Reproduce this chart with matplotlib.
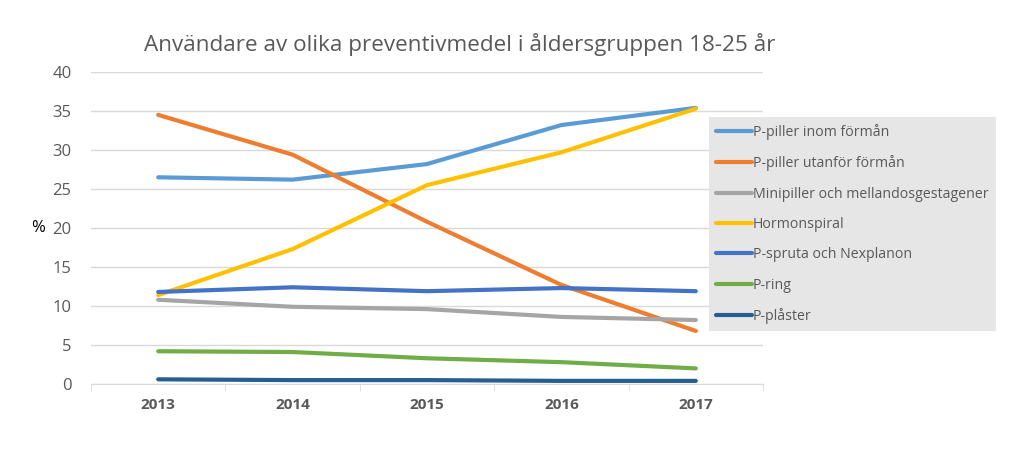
import numpy as np
import matplotlib.pyplot as plt

plt.rcParams['font.family'] = ['Open Sans', 'DejaVu Sans']

years = ['2013', '2014', '2015', '2016', '2017']
series_names = ['P-piller inom förmån', 'P-piller utanför förmån',
                'Minipiller och mellandosgestagener', 'Hormonspiral',
                'P-spruta och Nexplanon', 'P-ring', 'P-plåster']
p_inom = [26.5, 26.2, 28.2, 33.2, 35.4]
p_utanfor = [34.5, 29.4, 20.8, 12.7, 6.8]
minipiller = [10.8, 9.9, 9.6, 8.6, 8.2]
hormonspiral = [11.4, 17.3, 25.5, 29.7, 35.3]
p_spruta = [11.8, 12.4, 11.9, 12.3, 11.9]
p_ring = [4.2, 4.1, 3.3, 2.8, 2.0]
p_plaster = [0.6, 0.5, 0.5, 0.4, 0.4]
colors = ['#5B9BD5', '#ED7D31', '#A5A5A5', '#FFC000', '#4472C4', '#70AD47', '#255E91']

values = [p_inom, p_utanfor, minipiller, hormonspiral, p_spruta, p_ring, p_plaster]

fig = plt.figure(figsize=(10.24, 4.63), dpi=100)
ax = fig.add_axes([91 / 1024, 79 / 463, 672 / 1024, 312 / 463])

x = np.arange(len(years))
lines = []
for name, vals, col in zip(series_names, values, colors):
    ln, = ax.plot(x, vals, color=col, lw=3, solid_capstyle='round', label=name, zorder=3)
    lines.append(ln)

ax.set_xlim(-0.5, len(years) - 0.5)
ax.set_ylim(0, 40)
ax.set_yticks(range(0, 41, 5))
ax.yaxis.grid(True, color='#D9D9D9', lw=1)
ax.set_axisbelow(True)
for s in ['top', 'right', 'left']:
    ax.spines[s].set_visible(False)
ax.spines['bottom'].set_color('#D9D9D9')
ax.tick_params(axis='y', length=0, labelsize=12, labelcolor='#595959', pad=14)
ax.set_xticks(x)
ax.set_xticklabels(years, fontweight='bold')
ax.tick_params(axis='x', length=0, labelsize=11, labelcolor='#595959', pad=10)
ax.set_xticks(np.arange(-0.5, len(years)), minor=True)
ax.tick_params(axis='x', which='minor', length=5, color='#D9D9D9')

fig.text(38 / 1024, 1 - 228 / 463, '%', fontsize=12, ha='center', va='center', color='black')
fig.text(460 / 1024, 1 - 45 / 463, 'Användare av olika preventivmedel i åldersgruppen 18-25 år',
         fontsize=16.2, ha='center', va='center', color='#595959')

leg = fig.legend(handles=lines, loc='upper left', bbox_to_anchor=(709 / 1024, 1 - 117 / 463),
                 frameon=True, fancybox=False, facecolor='#E7E6E6', edgecolor='none',
                 framealpha=1, fontsize=10.2, handlelength=2.5, handletextpad=0.1,
                 labelspacing=1.08, borderpad=0.5, borderaxespad=0)
for t in leg.get_texts():
    t.set_color('#595959')

fig.savefig('out.png', dpi=100)
